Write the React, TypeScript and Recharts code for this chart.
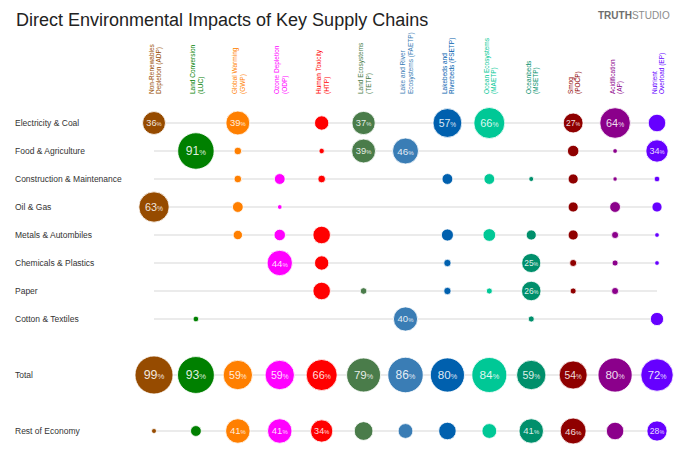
import React from 'react';
import { ScatterChart, Scatter, XAxis, YAxis, ZAxis, CartesianGrid } from 'recharts';

// ---- categories ----
const columnCodes = ['ADP', 'LUC', 'GWP', 'ODP', 'HTP', 'TETP', 'FAETP', 'FSETP', 'MAETP', 'MSETP', 'POCP', 'AP', 'EP'];
const headerLine1 = ['Non-Renewables', 'Land Conversion', 'Global Warming', 'Ozone Depletion', 'Human Toxicity', 'Land Ecosystems', 'Lake and River', 'Lakebeds and', 'Ocean Ecosystems', 'Oceanbeds', 'Smog', 'Acidification', 'Nutrient'];
const headerLine2 = ['Depletion (ADP)', '(LUC)', '(GWP)', '(ODP)', '(HTP)', '(TETP)', 'Ecosystems (FAETP)', 'Riverbeds (FSETP)', '(MAETP)', '(MSETP)', '(POCP)', '(AP)', 'Overload (EP)'];
const columnColors = ['#964b00', '#008000', '#ff7f00', '#ff00ff', '#ff0000', '#4a7c4a', '#3a7db5', '#0060ae', '#00c896', '#008f6b', '#8f0000', '#8b008b', '#6600ff'];

const rowNames = ['Electricity & Coal', 'Food & Agriculture', 'Construction & Maintenance', 'Oil & Gas', 'Metals & Autombiles', 'Chemicals & Plastics', 'Paper', 'Cotton & Textiles', 'Total', 'Rest of Economy'];

// ---- series values (percent), one array per row, in column order ----
const electricity = [36, null, 39, null, 14, 37, null, 57, 66, null, 27, 64, 21];
const food = [null, 91, 4, null, 2, 39, 46, null, null, null, 9, 1.5, 34];
const construction = [null, null, 4, 8, 4, null, null, 8, 8, 1.7, 7, 1.3, 2.2];
const oilGas = [63, null, 8, 1.5, null, null, null, null, null, null, 7, 8, 7];
const metals = [null, null, 6, 9, 21, null, null, 10, 11, 7, 7, 3.4, 1.5];
const chemicals = [null, null, null, 44, 14, null, null, 3.7, null, 25, 3.4, 2.5, 1.5];
const paper = [null, null, null, null, 21, 3, null, 3.7, 2.5, 26, 2.5, 3.4, null];
const cotton = [null, 2.2, null, null, null, null, 40, null, null, 2.5, null, null, 12];
const total = [99, 93, 59, 59, 66, 79, 86, 80, 84, 59, 54, 80, 72];
const restOfEconomy = [1.7, 8, 41, 41, 34, 24, 15, 21, 15, 41, 46, 21, 28];

const rowValues = [electricity, food, construction, oilGas, metals, chemicals, paper, cotton, total, restOfEconomy];

const LABEL_MIN = 25;
const FONT = "'Liberation Sans', Arial, Helvetica, sans-serif";

// row index -> y position on the axis (gap before Total and Rest of Economy)
const rowPos = (i: number) => (i < 8 ? i : i === 8 ? 9 : 11);
const yTicks = rowNames.map((_, i) => rowPos(i));

const seriesData = columnCodes.map((code, c) =>
  rowValues
    .map((vals, r) => ({ x: c, y: rowPos(r), z: vals[c], row: rowNames[r], code }))
    .filter((d) => d.z !== null && d.z !== undefined)
);

const Bubble = (props: any) => {
  const { cx, cy, width, payload, fill } = props;
  const r = width / 2;
  const v = payload.z;
  const fs = 4.3 + 0.43 * r;
  return (
    <g>
      <circle cx={cx} cy={cy} r={r} fill={fill} stroke="#ffffff" strokeWidth={0.8} />
      {v >= LABEL_MIN && (
        <text
          x={cx}
          y={cy + fs * 0.36}
          textAnchor="middle"
          fontFamily={FONT}
          fill="rgba(255,255,255,0.88)"
          fontSize={fs}
        >
          <tspan>{Math.round(v)}</tspan>
          <tspan fontSize={fs * 0.62}>%</tspan>
        </text>
      )}
    </g>
  );
};

const RowTick = (props: any) => {
  const { y, payload } = props;
  const idx = yTicks.indexOf(payload.value);
  return (
    <text x={15} y={y + 3} textAnchor="start" fontFamily={FONT} fontSize={8.5} fill="#333">
      {rowNames[idx]}
    </text>
  );
};

const ColTick = (props: any) => {
  const { x, payload } = props;
  const c = payload.value;
  const color = columnColors[c];
  const bottom = 94;
  return (
    <g>
      <text
        transform={`translate(${x - 0.5}, ${bottom}) rotate(-90)`}
        textAnchor="start"
        fontFamily={FONT}
        fontSize={6.5}
        fill={color}
      >
        {headerLine1[c]}
      </text>
      <text
        transform={`translate(${x + 7}, ${bottom}) rotate(-90)`}
        textAnchor="start"
        fontFamily={FONT}
        fontSize={6.5}
        fill={color}
      >
        {headerLine2[c]}
      </text>
    </g>
  );
};

export default function App() {
  return (
    <div style={{ position: 'absolute', left: 0, top: 0, width: 700, height: 460, background: '#fff' }}>
      <svg width={700} height={40} style={{ position: 'absolute', left: 0, top: 0 }}>
        <text x={16} y={26} fontFamily={FONT} fontSize={18} fill="#222">
          Direct Environmental Impacts of Key Supply Chains
        </text>
        <text x={598} y={19} fontFamily={FONT} fontSize={10} fill="#6e6e6e">
          <tspan fontWeight="bold">TRUTH</tspan>
          <tspan fill="#8c8c8c">STUDIO</tspan>
        </text>
      </svg>
      <div style={{ position: 'absolute', left: 0, top: 0 }}>
        <ScatterChart width={700} height={460} margin={{ top: 30, right: 43, bottom: 29, left: 15 }}>
          <CartesianGrid horizontal={true} vertical={false} stroke="#e4e4e4" strokeWidth={1.5} />
          <XAxis
            type="number"
            dataKey="x"
            orientation="top"
            domain={[0, 12]}
            ticks={columnCodes.map((_, i) => i)}
            height={93}
            axisLine={false}
            tickLine={false}
            tick={<ColTick />}
            interval={0}
          />
          <YAxis
            type="number"
            dataKey="y"
            domain={[0, 11]}
            reversed
            ticks={yTicks}
            width={139}
            axisLine={false}
            tickLine={false}
            tick={<RowTick />}
            interval={0}
          />
          <ZAxis type="number" dataKey="z" domain={[0, 100]} range={[0, 1146]} />
          {seriesData.map((d, c) => (
            <Scatter
              key={columnCodes[c]}
              name={columnCodes[c]}
              data={d}
              fill={columnColors[c]}
              shape={<Bubble />}
              isAnimationActive={false}
            />
          ))}
        </ScatterChart>
      </div>
    </div>
  );
}
